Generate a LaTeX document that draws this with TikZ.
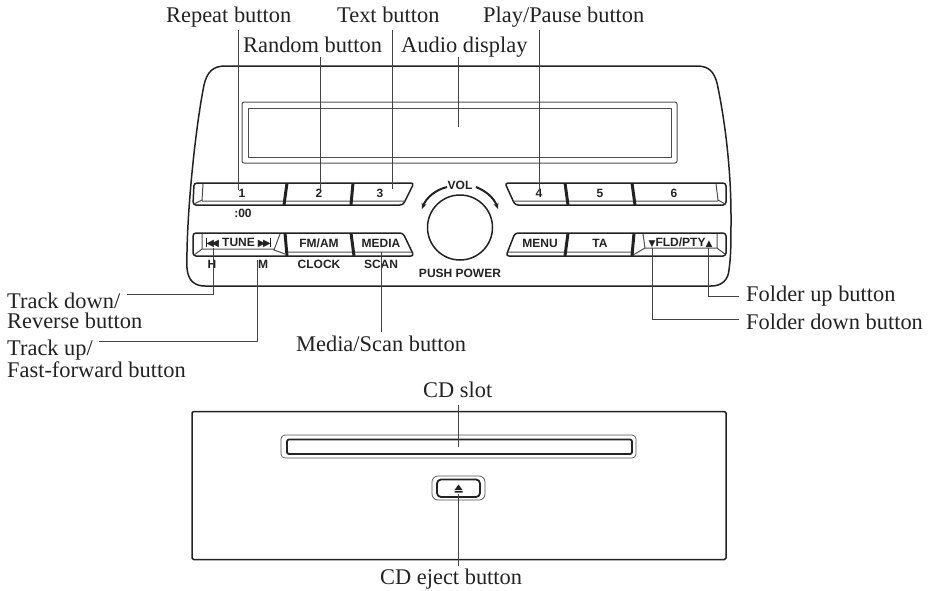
\documentclass[tikz,border=0pt]{standalone}
\usepackage{fontspec}
\setmainfont{Liberation Serif}
\newfontfamily\panelfont{Liberation Sans}
\newfontfamily\glyphfont{DejaVu Sans}
\usetikzlibrary{calc,arrows.meta}
\definecolor{ink}{HTML}{222222}
\tikzset{
    panel/.style={draw=ink, line width=1.5pt, line join=round},
    rim/.style={draw=ink!80, line width=1pt},
    divider/.style={draw=ink, line width=3pt},
    leader/.style={draw=ink!85, line width=1pt},
    callout/.style={inner sep=0pt, anchor=base west, text=ink, font=\fontsize{22.4}{20}\selectfont},
    btnlabel/.style={inner sep=0pt, text=ink, font=\panelfont\bfseries\fontsize{12}{12}\selectfont},
}
\newcommand{\tuneglyph}[1]{{\glyphfont\fontsize{10}{10}\selectfont #1}}
\begin{document}
\begin{tikzpicture}[x=1pt, y=-1pt]
    \useasboundingbox (0,0) rectangle (930,590);
    % radio face
    \draw [panel] (225,66) -- (697,66) .. controls (709,66) and (714,72) .. (717,83)
        .. controls (725,120) and (731,170) .. (731,215) .. controls (731,245) and (731,255) .. (729,270)
        .. controls (728,280) and (722,286) .. (711,286) -- (205,286)
        .. controls (195,286) and (188,281) .. (187,268) .. controls (186,220) and (195,130) .. (204,85)
        .. controls (207,72) and (213,66) .. (225,66) -- cycle;
    \draw [rim, rounded corners=2pt] (242,102) rectangle (677,163);
    \draw [rim] (248,108) rectangle (671,157);
    % upper buttons, left
    \draw [panel, rounded corners=3pt] (194,183)--(414,183)--(403,205)--(193,205)--cycle;
    \draw [rim] (203,184)--(202,200)--(194,204) (202,201)--(405,201);
    \draw [divider] (287,183)--(284,205);
    \draw [divider] (353,183)--(351,205);
    % upper buttons, right
    \draw [panel, rounded corners=3pt] (505,183)--(726,183)--(726,205)--(515,205)--cycle;
    \draw [rim] (716,184)--(718,200)--(725,204) (513,201)--(718,201);
    \draw [divider] (565,183)--(568,205);
    \draw [divider] (632,183)--(635,205);
    % lower buttons, left
    \draw [panel, rounded corners=3pt] (193,233)--(403,233)--(414,256)--(193,256)--cycle;
    \draw [rim] (202,234)--(202,249)--(194,255) (202,249)--(274,249) (280,234)--(274,250)--(285,254) (286,252)--(412,252);
    \draw [divider] (285,233)--(287,256);
    \draw [divider] (351,233)--(354,256);
    % lower buttons, right
    \draw [panel, rounded corners=3pt] (515,233)--(726,233)--(726,256)--(506,256)--cycle;
    \draw [rim] (508,252)--(633,252) (643,234)--(645,248)--(633,255) (645,248)--(717,248)--(717,234) (717,248)--(725,254);
    \draw [divider] (568,233)--(565,256);
    \draw [divider] (634,233)--(632,256);
    % volume knob
    \coordinate (knob) at (460,227.5);
    \draw [panel] (knob) circle (32.5);
    \draw [panel, line width=2pt, -{Stealth[length=6pt,width=5pt]}] (447,187) .. controls (435,190) and (426,198) .. (422,209);
    \draw [panel, line width=2pt, -{Stealth[length=6pt,width=5pt]}] (476,187) .. controls (486,191) and (494,198) .. (498,209);
    % button texts
    \node [btnlabel] (one) at (242,193.5) {1};
    \node [btnlabel] (two) at (319,193.5) {2};
    \node [btnlabel] (three) at (380,193.5) {3};
    \node [btnlabel] (four) at (539,193.5) {4};
    \node [btnlabel] (five) at (600,193.5) {5};
    \node [btnlabel] (six) at (674,193.5) {6};
    \node [btnlabel] (clockmin) at (243,213.5) {:00};
    \node [btnlabel] (tune) at (238.5,243) {\rule{1.2pt}{8.5pt}\tuneglyph{\kern-0.5pt ◀\kern-2.5pt◀}\kern3pt TUNE\kern3pt\tuneglyph{▶\kern-2.5pt▶\kern-0.5pt}\rule{1.2pt}{8.5pt}};
    \node [btnlabel] (fmam) at (319,243) {FM/AM};
    \node [btnlabel] (media) at (381,243) {MEDIA};
    \node [btnlabel] (menu) at (540,243) {MENU};
    \node [btnlabel] (ta) at (600,243) {TA};
    \node [btnlabel] (fld) at (680.5,243) {{\glyphfont\fontsize{9}{9}\selectfont ▼}FLD/PTY{\glyphfont\fontsize{9}{9}\selectfont ▲}};
    \node [btnlabel] (hour) at (212,264) {H};
    \node [btnlabel] (minute) at (263,264) {M};
    \node [btnlabel] (clock) at (319,264) {CLOCK};
    \node [btnlabel] (scan) at (381,264) {SCAN};
    \node [btnlabel] (vol) at (460,185) {VOL};
    \node [btnlabel] (push) at (460,273) {PUSH POWER};
    % disc unit
    \draw [panel, rounded corners=1.5pt] (192,411.5) rectangle (726,559.5);
    \draw [draw=ink!80, line width=0.7pt, rounded corners=4pt] (281,435) rectangle (636,458);
    \draw [panel, line width=1.8pt, rounded corners=2pt] (287,439.5) rectangle (632,454);
    \draw [draw=ink!80, line width=0.7pt, rounded corners=6pt] (432,476) rectangle (485,500);
    \draw [panel, line width=1.8pt, rounded corners=4pt] (437,479.5) rectangle (480,497);
    \fill [ink] (454.5,490)--(458.5,484.5)--(462.5,490)--cycle (454.5,491) rectangle (462.5,492.5);
    % callouts
    \node [callout, text depth=8pt] (repeat) at (166,22) {Repeat button};
    \node [callout, text depth=8pt] (textbtn) at (337,22) {Text button};
    \node [callout, text depth=8pt] (play) at (483,22) {Play/Pause button};
    \node [callout, text depth=5pt] (random) at (243,52) {Random button};
    \node [callout, text depth=5pt] (audio) at (401,52) {Audio display};
    \node [callout, align=left, anchor=north west] (trackdown) at (7,293) {Track down/\\Reverse button};
    \node [callout, align=left, anchor=north west] (trackup) at (7,340) {Track up/\\Fast-forward button};
    \node [callout, text height=19pt] (mediascan) at (296,351) {Media/Scan button};
    \node [callout, text depth=8pt] (cdslot) at (423,397) {CD slot};
    \node [callout, text height=18pt] (cdeject) at (380,584) {CD eject button};
    \node [callout] (folderup) at (746,301) {Folder up button};
    \node [callout] (folderdown) at (746,329) {Folder down button};
    % leader ends
    \coordinate (onrepeat) at (238,190);
    \coordinate (onrandom) at (320,190);
    \coordinate (ontext) at (392,189);
    \coordinate (ondisplay) at (458,127);
    \coordinate (onplay) at (539,190);
    \coordinate (ontrackdown) at (213,248);
    \coordinate (ontrackup) at (257,260);
    \coordinate (onmedia) at (381,252);
    \coordinate (onfolderdown) at (652,248);
    \coordinate (onfolderup) at (708.5,248);
    \coordinate (onslot) at (458,447);
    \coordinate (oneject) at (458,494);
    \coordinate (trackdownend) at (127,294);
    \coordinate (trackupend) at (99,341);
    % leaders
    \draw [leader] (repeat.south -| onrepeat) -- (onrepeat);
    \draw [leader] (random.south -| onrandom) -- (onrandom);
    \draw [leader] (textbtn.south -| ontext) -- (ontext);
    \draw [leader] (audio.south -| ondisplay) -- (ondisplay);
    \draw [leader] (play.south -| onplay) -- (onplay);
    \draw [leader] (ontrackdown) |- (trackdownend);
    \draw [leader] (ontrackup) |- (trackupend);
    \draw [leader] (onmedia) -- (mediascan.north -| onmedia);
    \draw [leader] (onfolderup) |- ($(folderup.west)+(-7,0.5)$);
    \draw [leader] (onfolderdown) |- ($(folderdown.west)+(-7,-2)$);
    \draw [leader] (cdslot.south -| onslot) -- (onslot);
    \draw [leader] (oneject) -- (cdeject.north -| oneject);
\end{tikzpicture}
\end{document}
